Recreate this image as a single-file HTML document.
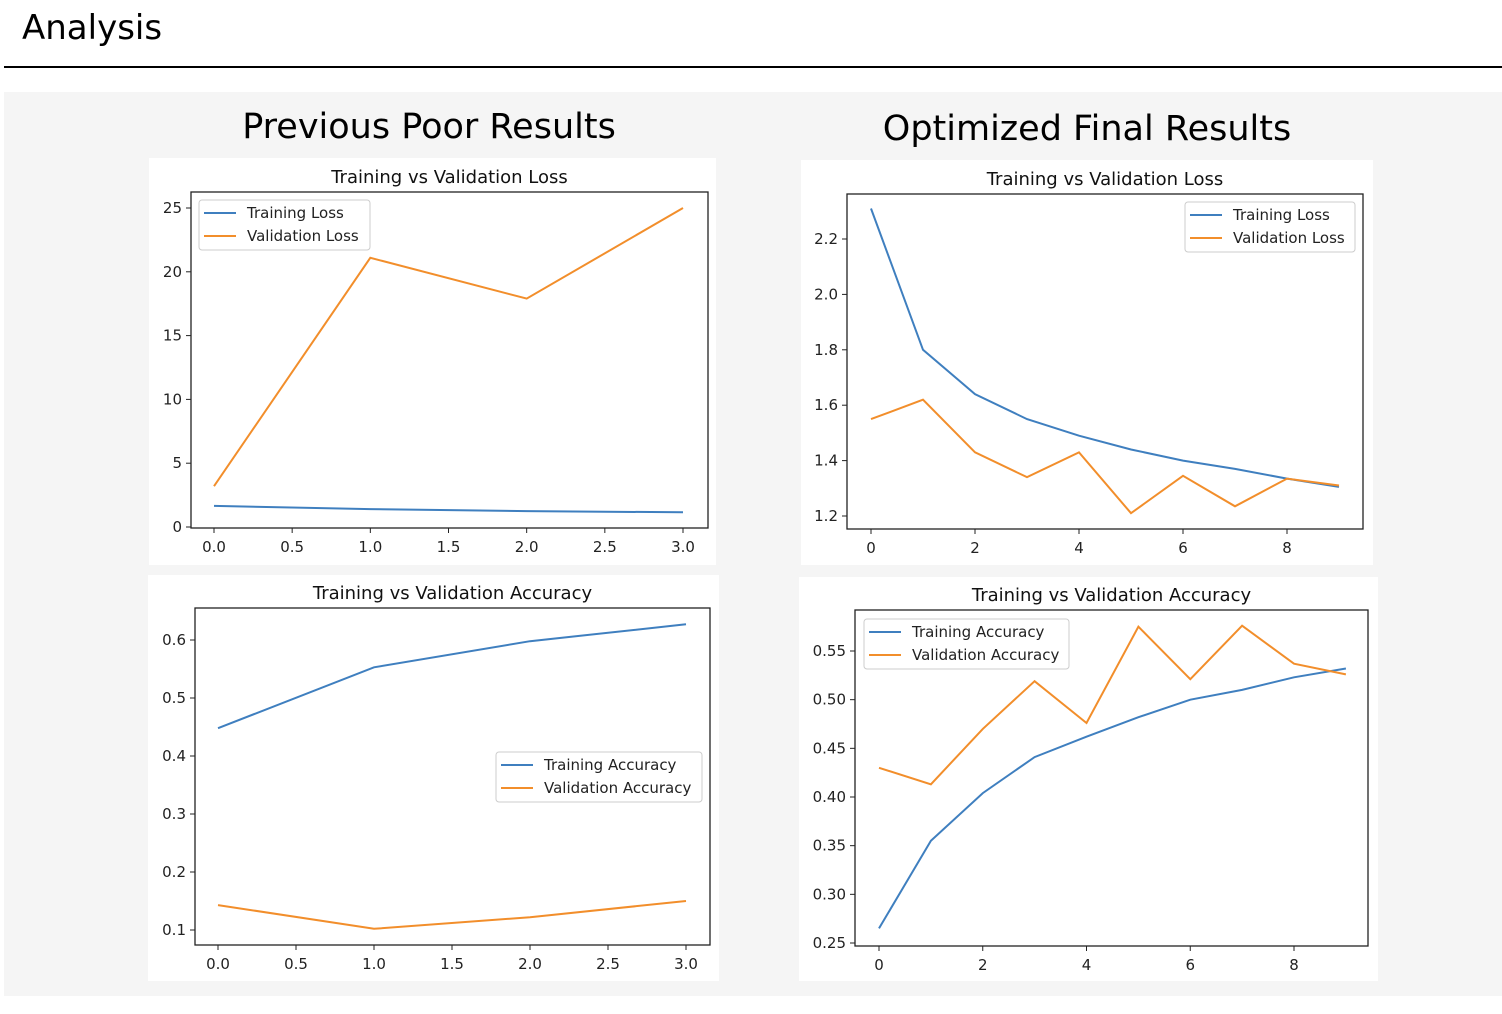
<!DOCTYPE html>
<html><head><meta charset="utf-8"><style>
body{margin:0;width:1502px;height:1014px;background:#fff;position:relative;overflow:hidden;font-family:"DejaVu Sans","Liberation Sans",sans-serif}
#hdr{position:absolute;left:22px;top:8px;font-size:34px;color:#000}
#rule{position:absolute;left:4px;top:66px;width:1498px;height:2px;background:#000}
#bg{position:absolute;left:4px;top:92px;width:1498px;height:904px;background:#f5f5f5}
.sec{position:absolute;font-size:35px;color:#000;transform:translateX(-50%);white-space:nowrap}
svg{position:absolute;left:0;top:0}
</style></head><body>
<div id="hdr">Analysis</div>
<div id="rule"></div>
<div id="bg"></div>
<div class="sec" style="left:429px;top:107px">Previous Poor Results</div>
<div class="sec" style="left:1087px;top:109px">Optimized Final Results</div>
<svg id="s" width="1502" height="1014"></svg>
<script>
// Chart A: previous loss
const aEpochs=[0,1,2,3];
const aTrain=[1.65,1.4,1.25,1.15];
const aVal=[3.2,21.1,17.9,25.0];
const aXTicks=[0,0.5,1,1.5,2,2.5,3];
const aXLabels=["0.0","0.5","1.0","1.5","2.0","2.5","3.0"];
const aYTicks=[0,5,10,15,20,25];
// Chart B: previous accuracy
const bEpochs=[0,1,2,3];
const bTrain=[0.448,0.553,0.598,0.627];
const bVal=[0.143,0.102,0.122,0.150];
const bYTicks=[0.1,0.2,0.3,0.4,0.5,0.6];
// Chart C: optimized loss
const cEpochs=[0,1,2,3,4,5,6,7,8,9];
const cTrain=[2.31,1.80,1.64,1.55,1.49,1.44,1.40,1.37,1.335,1.305];
const cVal=[1.55,1.62,1.43,1.34,1.43,1.21,1.345,1.235,1.335,1.31];
const cXTicks=[0,2,4,6,8];
const cYTicks=[1.2,1.4,1.6,1.8,2.0,2.2];
// Chart D: optimized accuracy
const dTrain=[0.265,0.355,0.404,0.441,0.462,0.482,0.500,0.510,0.523,0.532];
const dVal=[0.430,0.413,0.470,0.519,0.476,0.575,0.521,0.576,0.537,0.526];
const dYTicks=[0.25,0.30,0.35,0.40,0.45,0.50,0.55];

const NS="http://www.w3.org/2000/svg";
const svg=document.getElementById('s');
function mk(tag,attrs,parent){const e=document.createElementNS(NS,tag);for(const k in attrs)e.setAttribute(k,attrs[k]);(parent||svg).appendChild(e);return e;}
function chart(c){
  const g=mk('g',{});
  
  
  const p=mk('rect',{x:c.panel[0],y:c.panel[1],width:c.panel[2],height:c.panel[3],fill:'#fff'},g);
  
  
  const [L,T,R,B]=c.box;
  const xs=v=>c.x0+(v-c.xv0)*(c.x1-c.x0)/(c.xv1-c.xv0);
  const ys=v=>c.y0+(v-c.yv0)*(c.y1-c.y0)/(c.yv1-c.yv0);
  const t=mk('text',{x:(L+R)/2,y:T-9,'text-anchor':'middle','font-size':18,fill:'#111'},g);
  t.textContent=c.title;
  
  
  c.xt.forEach((v,i)=>{const x=xs(v);mk('line',{x1:x,x2:x,y1:B,y2:B+5,stroke:'#222'},g);
    const tx=mk('text',{x:x,y:B+24,'text-anchor':'middle','font-size':15,fill:'#222'},g);tx.textContent=c.xl?c.xl[i]:String(v);
    
    });
  c.yt.forEach((v,i)=>{const y=ys(v);mk('line',{x1:L-5,x2:L,y1:y,y2:y,stroke:'#222'},g);
    const tx=mk('text',{x:L-9,y:y+5,'text-anchor':'end','font-size':15,fill:'#222'},g);tx.textContent=c.yl?c.yl[i]:String(v);
    
    });
  [[c.tr,'#3f7fbf','training-line'],[c.va,'#f28e2b','validation-line']].forEach(([d,col,nm])=>{
    const pts=d.map((v,i)=>xs(c.ep[i]).toFixed(1)+','+ys(v).toFixed(1)).join(' ');
    const pl=mk('polyline',{points:pts,fill:'none',stroke:col,'stroke-width':2},g);
    
    
  });
  mk('rect',{x:L,y:T,width:R-L,height:B-T,fill:'none',stroke:'#222','stroke-width':1.3},g);
  const [lx,ly,lw,lh]=c.leg;
  const lg=mk('g',{},g);
  
  
  mk('rect',{x:lx,y:ly,width:lw,height:lh,fill:'#fff',stroke:'#ccc',rx:3},lg);
  c.ln.forEach((n,i)=>{const y=ly+13+i*23;
    mk('line',{x1:lx+5,x2:lx+37,y1:y,y2:y,stroke:i?'#f28e2b':'#3f7fbf','stroke-width':2},lg);
    const tx=mk('text',{x:lx+48,y:y+5,'font-size':15,fill:'#222'},lg);tx.textContent=n;
    
    });
}
chart({name:'prev-loss-chart',title:'Training vs Validation Loss',panel:[149,158,567,407],box:[191,192,708,528],
  x0:214,x1:683,xv0:0,xv1:3,y0:527,y1:208,yv0:0,yv1:25,xt:aXTicks,xl:aXLabels,yt:aYTicks,ep:aEpochs,tr:aTrain,va:aVal,
  leg:[199,200,171,50],ln:['Training Loss','Validation Loss']});
chart({name:'prev-accuracy-chart',title:'Training vs Validation Accuracy',panel:[148,575,571,406],box:[195,608,710,945],
  x0:218,x1:686,xv0:0,xv1:3,y0:930,y1:640,yv0:0.1,yv1:0.6,xt:aXTicks,xl:aXLabels,yt:bYTicks,yl:bYTicks.map(v=>v.toFixed(1)),ep:bEpochs,tr:bTrain,va:bVal,
  leg:[496,752,206,50],ln:['Training Accuracy','Validation Accuracy']});
chart({name:'optimized-loss-chart',title:'Training vs Validation Loss',panel:[801,160,572,405],box:[847,194,1363,529],
  x0:871,x1:1287,xv0:0,xv1:8,y0:516,y1:239,yv0:1.2,yv1:2.2,xt:cXTicks,yt:cYTicks,yl:cYTicks.map(v=>v.toFixed(1)),ep:cEpochs,tr:cTrain,va:cVal,
  leg:[1185,202,170,50],ln:['Training Loss','Validation Loss']});
chart({name:'optimized-accuracy-chart',title:'Training vs Validation Accuracy',panel:[799,577,579,404],box:[855,610,1368,946],
  x0:879,x1:1294,xv0:0,xv1:8,y0:943,y1:651,yv0:0.25,yv1:0.55,xt:cXTicks,yt:dYTicks,yl:dYTicks.map(v=>v.toFixed(2)),ep:cEpochs,tr:dTrain,va:dVal,
  leg:[864,619,205,50],ln:['Training Accuracy','Validation Accuracy']});
</script>
</body></html>
